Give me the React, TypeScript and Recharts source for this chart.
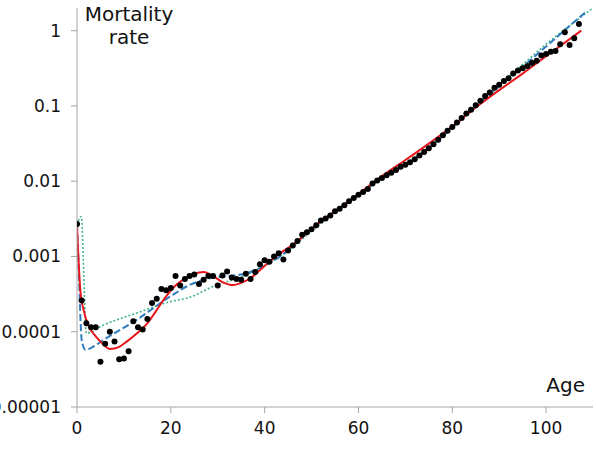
import React from "react";
import { ComposedChart, Line, Scatter, XAxis, YAxis } from "recharts";

// observed rates by age (dots)
const observed = [
  0.0027, 0.00026, 0.00013, 0.000115, 0.000115, 0.00004, 0.000069, 0.0001, 0.000074, 0.000043,
  0.000044, 0.000055, 0.000138, 0.000115, 0.000107, 0.000148, 0.00024, 0.000275, 0.00037, 0.000355,
  0.00038, 0.00055, 0.00041, 0.0005, 0.00055, 0.000575, 0.00043, 0.00049, 0.00055, 0.00055,
  0.00041, 0.00056, 0.00063, 0.000525, 0.0005, 0.00049, 0.00059, 0.0005, 0.00062, 0.00079,
  0.00089, 0.00085, 0.001, 0.0011, 0.00091, 0.0012, 0.0014, 0.0016, 0.00195, 0.0021,
  0.0023, 0.0026, 0.003, 0.0032, 0.0035, 0.004, 0.0043, 0.0048, 0.0054, 0.006,
  0.0066, 0.0072, 0.0079, 0.0093, 0.0102, 0.011, 0.012, 0.0129, 0.0141, 0.0155,
  0.0166, 0.0178, 0.0195, 0.0219, 0.0245, 0.0275, 0.0309, 0.0355, 0.0407, 0.0468,
  0.0525, 0.0603, 0.0692, 0.0794, 0.0891, 0.102, 0.117, 0.135, 0.151, 0.174,
  0.191, 0.214, 0.234, 0.269, 0.295, 0.316, 0.339, 0.372, 0.398, 0.468,
  0.49, 0.525, 0.537, 0.661, 0.955, 0.646, 0.794, 1.23,
];

// fitted curves: [age, rate]
const redFit: [number, number][] = [
  [0, 0.0025], [0.7, 0.00036], [1.4, 0.000195], [2.5, 0.000118], [4, 0.000087],
  [5.5, 0.000069], [7, 0.000059], [9, 0.000063], [10.6, 0.000074], [12.8, 0.0000955],
  [15, 0.000129], [17, 0.000195], [19, 0.000295], [21.3, 0.000427], [23.4, 0.000525],
  [25, 0.00059], [27, 0.00062], [29, 0.00055], [31, 0.000457], [33.3, 0.000417],
  [35, 0.000447], [37, 0.000513], [39, 0.00066], [41, 0.00085], [43.3, 0.0011],
  [45.4, 0.00135], [47.5, 0.0017], [50, 0.00234], [55, 0.00398], [60, 0.00676],
  [65, 0.0117], [70, 0.0191], [75, 0.0316], [80, 0.0537], [85, 0.0955],
  [90, 0.162], [95, 0.269], [100, 0.457], [107.5, 1.0],
];

const blueFit: [number, number][] = [
  [0, 0.0027], [0.35, 0.00074], [1, 0.000078], [1.8, 0.0000575], [2.8, 0.00006],
  [4.2, 0.0000676], [5.7, 0.000078], [12.8, 0.000145], [19.9, 0.000295], [24, 0.000417],
  [29, 0.000525], [32.6, 0.00055], [36.2, 0.0006], [39.7, 0.00074], [43.3, 0.001],
  [50.3, 0.0024], [55, 0.00398], [60, 0.0066], [65, 0.011], [70, 0.0166],
  [75, 0.0275], [80, 0.0513], [85, 0.0977], [90, 0.182], [95, 0.331],
  [100, 0.617], [108.5, 1.78],
];

const greenFit: [number, number][] = [
  [0, 0.00263], [0.5, 0.00316], [0.9, 0.00339], [2, 0.0000955], [5.7, 0.000123],
  [12.8, 0.000178], [19.9, 0.000251], [23.7, 0.000282], [29, 0.000398], [36.2, 0.000575],
  [43.3, 0.001], [50.3, 0.00224], [55, 0.00389], [60, 0.0066], [65, 0.011],
  [70, 0.017], [75, 0.0282], [80, 0.0525], [85, 0.1], [90, 0.191],
  [95, 0.355], [100, 0.661], [110, 2.0],
];

const xTicks = [0, 20, 40, 60, 80, 100];
const yTicks = [0.00001, 0.0001, 0.001, 0.01, 0.1, 1];
const yTickLabels = ["0.00001", "0.0001", "0.001", "0.01", "0.1", "1"];

const dots = observed.map((rate, age) => ({ age, rate }));
const toRows = (pts: [number, number][]) => pts.map(([age, rate]) => ({ age, rate }));

const font = "'DejaVu Sans', Verdana, sans-serif";
const axisColor = "#a6a6a6";
const textColor = "#111";

export default function App() {
  return (
    <div style={{ position: "absolute", left: 0, top: 0, width: 596, height: 454, fontFamily: font }}>
      <ComposedChart width={596} height={454} margin={{ top: 8, right: 3, left: 0, bottom: 0 }}>
        <XAxis
          dataKey="age"
          type="number"
          domain={[0, 110]}
          ticks={xTicks}
          allowDataOverflow
          height={47}
          tickSize={6}
          tickMargin={9}
          stroke={axisColor}
          tick={{ fontSize: 17, fill: textColor, fontFamily: font }}
        />
        <YAxis
          dataKey="rate"
          type="number"
          scale="log"
          domain={[0.00001, 2]}
          ticks={yTicks}
          allowDataOverflow
          width={77}
          tickSize={6}
          tickMargin={10}
          stroke={axisColor}
          tickFormatter={(v: number) => yTickLabels[yTicks.indexOf(v)] ?? String(v)}
          tick={{ fontSize: 17, fill: textColor, fontFamily: font }}
        />
        <Line
          data={toRows(greenFit)}
          dataKey="rate"
          type="monotone"
          stroke="#3fb58a"
          strokeWidth={1.6}
          strokeDasharray="2 2"
          dot={false}
          isAnimationActive={false}
        />
        <Line
          data={toRows(blueFit)}
          dataKey="rate"
          type="monotone"
          stroke="#2f7bbd"
          strokeWidth={2}
          strokeDasharray="7 3"
          dot={false}
          isAnimationActive={false}
        />
        <Scatter
          data={dots}
          dataKey="rate"
          isAnimationActive={false}
          shape={(p: any) => <circle cx={p.cx} cy={p.cy} r={3} fill="#000" />}
        />
        <Line
          data={toRows(redFit)}
          dataKey="rate"
          type="monotone"
          stroke="#e8161c"
          strokeWidth={2}
          dot={false}
          isAnimationActive={false}
        />
      </ComposedChart>
      <div
        style={{
          position: "absolute",
          left: 79,
          top: 3,
          width: 100,
          textAlign: "center",
          fontSize: 20,
          lineHeight: "23.4px",
          color: textColor,
        }}
      >
        Mortality
        <br />
        rate
      </div>
      <div style={{ position: "absolute", right: 11, top: 373, fontSize: 20, color: textColor }}>Age</div>
    </div>
  );
}
